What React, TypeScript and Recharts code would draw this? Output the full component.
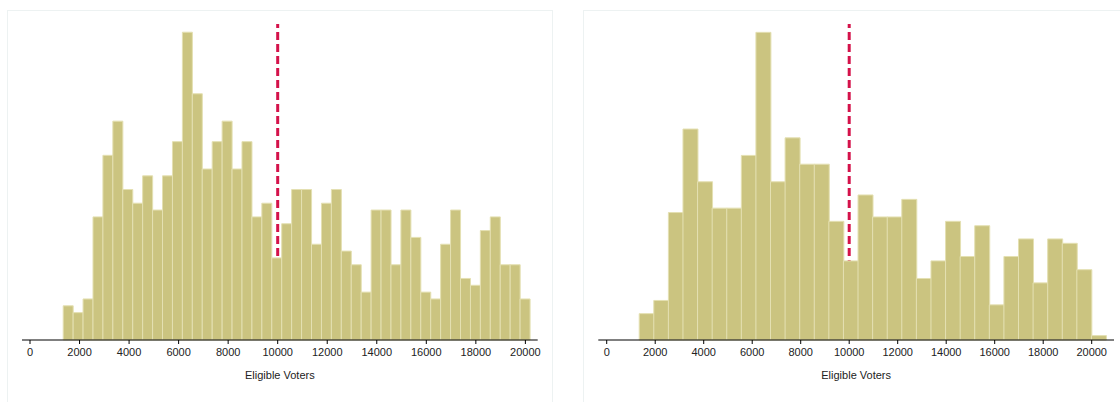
import { ComposedChart, Bar, XAxis, YAxis, ReferenceLine } from 'recharts'

// histogram counts per bin, narrow bins (left) and wide bins (right)
const narrowCounts = [
  5, 4, 6, 18, 27, 32, 22, 20, 24, 19, 24, 29, 45, 36, 25, 29, 32, 25, 29, 18,
  20, 12, 17, 22, 22, 14, 20, 22, 13, 11, 7, 19, 19, 11, 19, 15, 7, 6, 14, 19,
  9, 8, 16, 18, 11, 11, 6,
]
const wideCounts = [
  6, 9, 29, 48, 36, 30, 30, 42, 70, 36, 46, 40, 40, 27, 18, 33, 28, 28, 32, 14,
  18, 27, 19, 26, 8, 19, 23, 13, 23, 22, 16, 1,
]

const binStart = 1340
const narrowBinWidth = 401
const wideBinWidth = 601.6
const threshold = 10000
const xTicks = [0, 2000, 4000, 6000, 8000, 10000, 12000, 14000, 16000, 18000, 20000]

const toBins = (counts: number[], width: number) =>
  counts.map((count, i) => ({ mid: binStart + width * (i + 0.5), count }))

const FONT = '"Liberation Sans", Arial, Helvetica, sans-serif'
const BAR_FILL = '#cbc480'
const BAR_EDGE = '#e4e0b2'
const LINE_RED = '#d4124a'
const AXIS_H = 40

type Margin = { top: number; right: number; left: number; bottom: number }

interface HistProps {
  data: { mid: number; count: number }[]
  width: number
  xDomain: [number, number]
  yMax: number
  margin: Margin
  withLine?: boolean
}

function Histogram({ data, width, xDomain, yMax, margin, withLine }: HistProps) {
  // the threshold layer repeats the same axes but paints only the dashed line,
  // so the bar layer on top of it covers the line where they overlap
  return (
    <ComposedChart
      width={width}
      height={402}
      data={data}
      margin={margin}
      barCategoryGap={0}
      barGap={0}
    >
      <XAxis
        dataKey="mid"
        type="number"
        domain={xDomain}
        ticks={xTicks}
        allowDataOverflow
        height={AXIS_H}
        tickSize={4}
        tickMargin={4}
        axisLine={withLine ? false : { stroke: '#000', strokeWidth: 1 }}
        tickLine={withLine ? false : { stroke: '#000' }}
        tick={withLine ? false : { fill: '#222', fontSize: 11, fontFamily: FONT }}
        label={
          withLine
            ? undefined
            : {
                value: 'Eligible Voters',
                position: 'insideBottom',
                offset: 1.5,
                fill: '#222',
                fontSize: 11,
                fontFamily: FONT,
              }
        }
      />
      <YAxis hide domain={[0, yMax]} />
      <Bar
        dataKey="count"
        fill={withLine ? 'transparent' : BAR_FILL}
        stroke={withLine ? 'none' : BAR_EDGE}
        strokeWidth={1}
        isAnimationActive={false}
      />
      {withLine && (
        <ReferenceLine x={threshold} stroke={LINE_RED} strokeWidth={3} strokeDasharray="8 4" />
      )}
    </ComposedChart>
  )
}

function Panel(props: HistProps & { left: number }) {
  const { left, ...rest } = props
  return (
    <>
      <div style={{ position: 'absolute', left, top: 0 }}>
        <Histogram {...rest} withLine />
      </div>
      <div style={{ position: 'absolute', left, top: 0 }}>
        <Histogram {...rest} />
      </div>
    </>
  )
}

const panelStyle: React.CSSProperties = {
  position: 'absolute',
  top: 10,
  height: 400,
  border: '1px solid #edf2f2',
  boxSizing: 'border-box',
}

export default function App() {
  return (
    <div style={{ position: 'fixed', left: 0, top: 0, width: 1120, height: 402, background: '#fff', overflow: 'hidden' }}>
      <div style={{ ...panelStyle, left: 7, width: 546 }} />
      <div style={{ ...panelStyle, left: 583, width: 560 }} />
      <Panel
        left={0}
        data={toBins(narrowCounts, narrowBinWidth)}
        width={560}
        xDomain={[-323, 20497]}
        yMax={46.2}
        margin={{ top: 24, right: 22.3, left: 22, bottom: 22 }}
      />
      <Panel
        left={576}
        data={toBins(wideCounts, wideBinWidth)}
        width={544}
        xDomain={[-347, 20920]}
        yMax={71.9}
        margin={{ top: 24, right: 6, left: 22.3, bottom: 22 }}
      />
    </div>
  )
}
